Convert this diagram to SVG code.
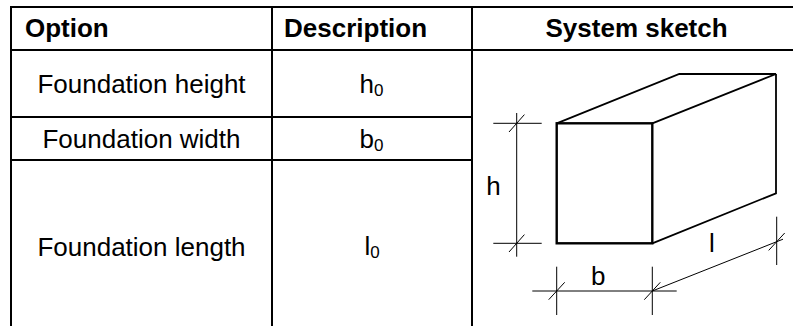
<svg xmlns="http://www.w3.org/2000/svg" width="793" height="326" viewBox="0 0 793 326">
<style>
.grid{stroke:#000;stroke-width:2;fill:none}
.hd{font-family:"Liberation Sans",Arial,sans-serif;font-size:26px;font-weight:bold;fill:#000}
.tx{font-family:"Liberation Sans",Arial,sans-serif;font-size:26px;fill:#000}
.sub{font-size:17px}
.edge{stroke:#000;stroke-width:1.8;fill:none;stroke-linejoin:miter}
.face{stroke:#000;stroke-width:2.4;fill:none}
.dim{stroke:#000;stroke-width:1;fill:none}
</style>
<rect width="793" height="326" fill="#fff"/>
<g id="table">
  <line class="grid" x1="11" y1="7" x2="793" y2="7"/>
  <line class="grid" x1="11" y1="50" x2="793" y2="50"/>
  <line class="grid" x1="11" y1="117" x2="472" y2="117"/>
  <line class="grid" x1="11" y1="160" x2="472" y2="160"/>
  <line class="grid" x1="11" y1="6" x2="11" y2="326"/>
  <line class="grid" x1="272" y1="6" x2="272" y2="326"/>
  <line class="grid" x1="472" y1="6" x2="472" y2="326"/>
</g>
<g id="header">
  <text class="hd" x="25" y="37">Option</text>
  <text class="hd" x="284" y="37">Description</text>
  <text class="hd" x="545.5" y="37">System sketch</text>
</g>
<g id="row-height">
  <text class="tx" x="141.5" y="93" text-anchor="middle">Foundation height</text>
  <text class="tx" x="371.5" y="93" text-anchor="middle">h<tspan class="sub" dy="3">0</tspan></text>
</g>
<g id="row-width">
  <text class="tx" x="141.5" y="148" text-anchor="middle">Foundation width</text>
  <text class="tx" x="371.5" y="147.5" text-anchor="middle">b<tspan class="sub" dy="3">0</tspan></text>
</g>
<g id="row-length">
  <text class="tx" x="141.5" y="255.5" text-anchor="middle">Foundation length</text>
  <text class="tx" x="372" y="255" text-anchor="middle">l<tspan class="sub" dy="3">0</tspan></text>
</g>
<g id="sketch-box">
  <polyline class="edge" points="556.7,123.3 679.3,74 776,74 652.3,123.3"/>
  <polyline class="edge" points="776,74 776,193.3 652.3,243.3"/>
  <rect class="face" x="556.7" y="123.3" width="95.6" height="120"/>
</g>
<g id="connectors">
  <line class="dim" x1="516.7" y1="113" x2="516.7" y2="256.7"/>
  <line class="dim" x1="493.3" y1="123.3" x2="541.7" y2="123.3"/>
  <line class="dim" x1="493.3" y1="243.3" x2="541.7" y2="243.3"/>
  <line class="dim" x1="509" y1="132" x2="524.4" y2="114.6"/>
  <line class="dim" x1="509" y1="252" x2="524.4" y2="234.6"/>
  <line class="dim" x1="532.3" y1="291" x2="676.7" y2="291"/>
  <line class="dim" x1="556.7" y1="266.7" x2="556.7" y2="315"/>
  <line class="dim" x1="652.3" y1="266.7" x2="652.3" y2="315"/>
  <line class="dim" x1="548.7" y1="299.7" x2="564.7" y2="282.3"/>
  <line class="dim" x1="644.3" y1="299.7" x2="660.3" y2="282.3"/>
  <line class="dim" x1="652.3" y1="291" x2="783" y2="239.2"/>
  <line class="dim" x1="776.7" y1="216.7" x2="776.7" y2="265"/>
  <line class="dim" x1="768.7" y1="250.4" x2="784.7" y2="233"/>
</g>
<g id="sketch-labels">
  <text class="tx" x="486.3" y="195">h</text>
  <text class="tx" x="591" y="285">b</text>
  <text class="tx" x="709" y="251.7">l</text>
</g>
</svg>
